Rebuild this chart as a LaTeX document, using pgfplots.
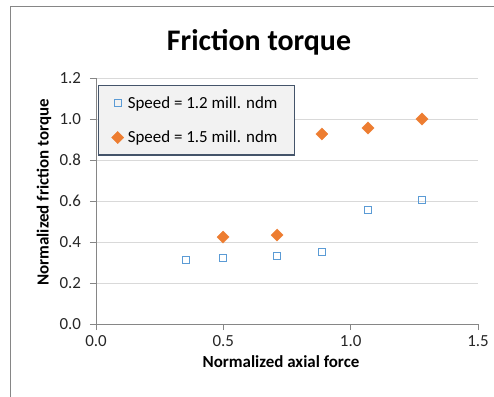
\documentclass[border=0pt]{standalone}
\usepackage{pgfplots}
\pgfplotsset{compat=1.18}
\usepackage{fontspec}
\setmainfont{Carlito}
\definecolor{sblue}{HTML}{5B9BD5}
\definecolor{sorange}{HTML}{ED7D31}
\definecolor{gridc}{HTML}{D9D9D9}
\definecolor{axc}{HTML}{868686}
\definecolor{legb}{HTML}{44546A}
\definecolor{legf}{HTML}{F2F2F2}
\pgfplotsset{onemark/.style={legend image code/.code={\draw[##1] plot coordinates {(5bp,0bp)};}}}
\begin{document}
\begin{tikzpicture}
\useasboundingbox (-96bp,-73bp) rectangle (398bp,324bp);
\draw[axc, line width=0.8bp] (-86bp,-73bp) -- (-86bp,318bp) -- (398bp,318bp);
\begin{axis}[
  at={(0,0)}, anchor=south west,
  scale only axis, width=382bp, height=246bp,
  xmin=0, xmax=1.5, ymin=0, ymax=1.2,
  xtick={0,0.5,1,1.5}, ytick={0,0.2,0.4,0.6,0.8,1.0,1.2},
  axis x line*=bottom, axis y line*=left,
  tick align=outside, major tick length=6bp,
  ymajorgrids, grid style={gridc, line width=0.9bp},
  axis line style={axc, line width=0.8bp},
  major tick style={axc, line width=0.8bp},
  /pgf/number format/assume math mode=true,
  /pgf/number format/fixed, /pgf/number format/fixed zerofill, /pgf/number format/precision=1,
  ticklabel style={font=\fontsize{17}{20}\selectfont, text=black!85},
  yticklabel style={xshift=-5.5bp},
  xticklabel style={yshift=-2bp},
  legend style={at={(rel axis cs:0.0052,0.9715)}, anchor=north west,
    fill=legf, draw=legb, line width=1.3bp,
    font=\fontsize{17}{20}\selectfont, row sep=17bp,
    inner xsep=13bp, inner ysep=9bp,
    nodes={inner xsep=4bp}},
  legend cell align=left,
]
\addplot[only marks, mark=square, mark size=3.6bp, mark options={draw=sblue, line width=1.1bp}, onemark]
  coordinates {(0.353,0.312)(0.499,0.322)(0.711,0.332)(0.887,0.351)(1.068,0.556)(1.28,0.605)};
\addlegendentry{Speed = 1.2 mill. ndm}
\addplot[only marks, mark=square*, mark size=4.3bp, mark options={fill=sorange, draw=sorange, rotate=45, line width=0.3bp}, onemark]
  coordinates {(0.499,0.424)(0.711,0.434)(0.887,0.927)(1.068,0.956)(1.28,1.0)};
\addlegendentry{Speed = 1.5 mill. ndm}
\end{axis}
\node[font=\bfseries\fontsize{30}{34}\selectfont] at (163bp,282bp) {Friction torque};
\node[font=\bfseries\fontsize{17}{20}\selectfont] at (185bp,-38bp) {Normalized axial force};
\node[font=\bfseries\fontsize{17}{20}\selectfont, rotate=90] at (-52bp,131.5bp) {Normalized friction torque};
\end{tikzpicture}
\end{document}
